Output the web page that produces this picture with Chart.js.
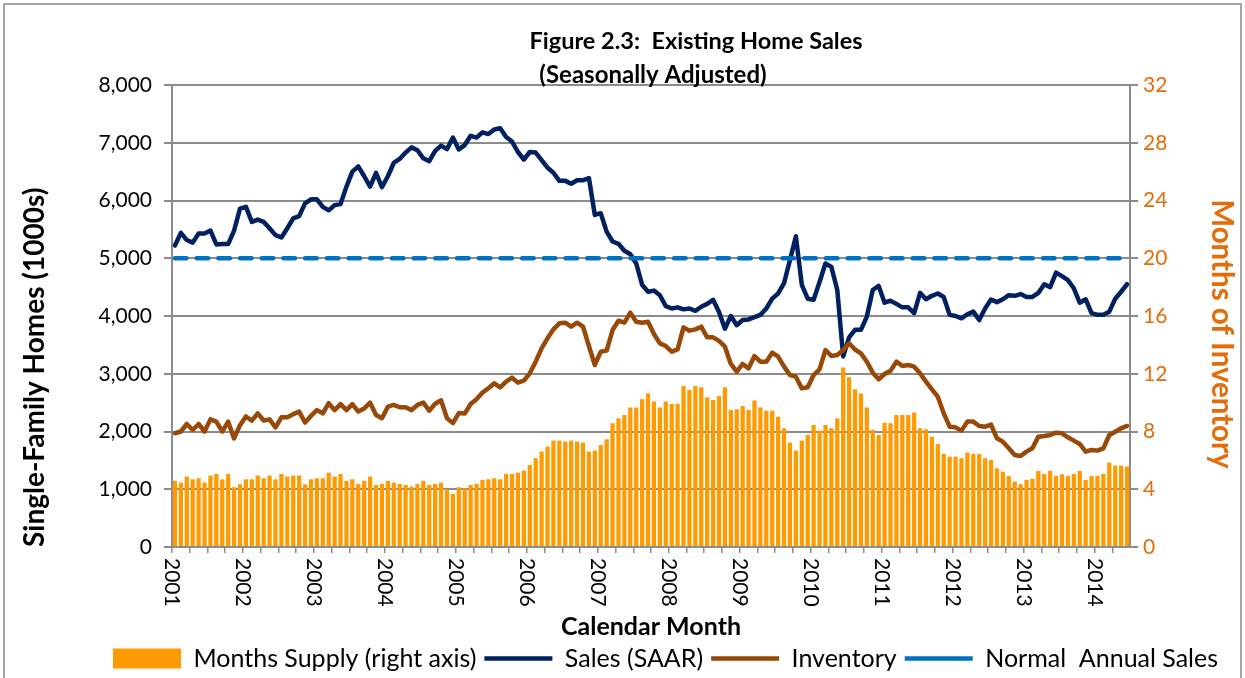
<!DOCTYPE html>
<html>
<head>
<meta charset="utf-8">
<script src="https://cdn.jsdelivr.net/npm/chart.js@4.4.1/dist/chart.umd.min.js"></script>
<style>
  html, body { margin: 0; padding: 0; background: #ffffff; }
  #wrap { position: relative; width: 1245px; height: 678px; overflow: hidden; }
</style>
</head>
<body>
<div id="wrap"><canvas id="c" width="1245" height="678"></canvas></div>
<script>
// ---------------- DATA ----------------
const years = [2001, 2002, 2003, 2004, 2005, 2006, 2007, 2008, 2009, 2010, 2011, 2012, 2013, 2014];
const monthNames = ['Jan','Feb','Mar','Apr','May','Jun','Jul','Aug','Sep','Oct','Nov','Dec'];

// Sales (SAAR), thousands — Jan 2001 .. Jun 2014
const salesSAAR = [
  5220, 5440, 5315, 5270, 5430, 5430, 5480, 5240, 5245, 5245, 5480, 5860,
  5890, 5630, 5670, 5630, 5520, 5400, 5360, 5520, 5690, 5730, 5950, 6020,
  6020, 5890, 5830, 5920, 5940, 6240, 6500, 6590, 6420, 6240, 6480, 6230,
  6420, 6650, 6720, 6830, 6920, 6870, 6730, 6680, 6860, 6950, 6890, 7090,
  6885, 6960, 7120, 7090, 7180, 7150, 7230, 7250, 7100, 7020, 6840, 6710,
  6840, 6830, 6700, 6570, 6480, 6340, 6340, 6290, 6350, 6350, 6390, 5750,
  5780, 5460, 5290, 5250, 5130, 5070, 4910, 4540, 4420, 4440, 4360, 4170,
  4130, 4150, 4115, 4130, 4090, 4160, 4210, 4280, 4070, 3780, 4000, 3840,
  3930, 3940, 3980, 4020, 4130, 4300, 4390, 4570, 4970, 5380, 4540, 4300,
  4280, 4590, 4910, 4850, 4450, 3300, 3630, 3760, 3760, 3990, 4450, 4520,
  4230, 4265, 4210, 4150, 4150, 4050, 4400, 4290, 4350, 4390, 4330, 4020,
  4000, 3960, 4030, 4075, 3930, 4130, 4285, 4240, 4290, 4360, 4350, 4380,
  4330, 4330, 4400, 4550, 4500, 4750, 4690, 4620, 4480, 4230, 4290, 4050,
  4020, 4020, 4075, 4300, 4420, 4550
];

// Inventory, thousands
const inventory = [
  1970, 2000, 2130, 2030, 2130, 2000, 2210, 2170, 2000, 2170, 1880, 2110,
  2260, 2190, 2315, 2190, 2210, 2070, 2245, 2245, 2300, 2345, 2155, 2270,
  2370, 2315, 2490, 2370, 2475, 2370, 2475, 2345, 2400, 2500, 2285, 2230,
  2430, 2460, 2420, 2420, 2370, 2460, 2500, 2360, 2480, 2540, 2230, 2145,
  2320, 2310, 2476, 2560, 2673, 2748, 2834, 2765, 2863, 2932, 2846, 2880,
  3007, 3209, 3440, 3613, 3769, 3873, 3884, 3815, 3884, 3815, 3480, 3151,
  3382, 3400, 3757, 3919, 3884, 4057, 3902, 3884, 3902, 3688, 3526, 3480,
  3382, 3423, 3803, 3746, 3769, 3815, 3630, 3630, 3570, 3469, 3169, 3036,
  3169, 3094, 3307, 3209, 3209, 3365, 3296, 3123, 2978, 2949, 2747, 2765,
  2978, 3076, 3411, 3307, 3325, 3411, 3527, 3420, 3353, 3209, 3019, 2903,
  2996, 3053, 3209, 3134, 3151, 3123, 3007, 2863, 2730, 2603, 2315, 2084,
  2072, 2015, 2171, 2171, 2096, 2084, 2120, 1882, 1824, 1709, 1594, 1576,
  1651, 1709, 1911, 1922, 1940, 1980, 1969, 1899, 1842, 1784, 1651, 1680,
  1669, 1709, 1940, 1997, 2055, 2096
];

// Months supply (right axis)
const monthsSupply = [
  4.58, 4.46, 4.88, 4.69, 4.76, 4.46, 4.95, 5.06, 4.69, 5.06, 4.14, 4.35,
  4.69, 4.69, 4.95, 4.76, 4.95, 4.69, 5.06, 4.88, 4.95, 4.95, 4.35, 4.69,
  4.76, 4.76, 5.15, 4.88, 5.06, 4.58, 4.69, 4.37, 4.58, 4.88, 4.30, 4.37,
  4.58, 4.46, 4.37, 4.30, 4.18, 4.37, 4.58, 4.30, 4.37, 4.46, 4.00, 3.68,
  4.14, 4.07, 4.30, 4.37, 4.65, 4.69, 4.76, 4.69, 5.06, 5.06, 5.15, 5.29,
  5.68, 6.15, 6.61, 6.95, 7.37, 7.37, 7.30, 7.37, 7.30, 7.23, 6.61, 6.68,
  7.07, 7.46, 8.57, 8.91, 9.14, 9.67, 9.67, 10.23, 10.64, 10.07, 9.67, 10.07,
  9.91, 9.91, 11.15, 10.87, 11.15, 11.06, 10.37, 10.18, 10.46, 11.06, 9.49, 9.54,
  9.77, 9.49, 10.14, 9.67, 9.44, 9.44, 9.03, 8.22, 7.23, 6.68, 7.37, 7.76,
  8.45, 8.06, 8.45, 8.22, 8.91, 12.44, 11.75, 10.92, 10.64, 9.67, 8.11, 7.76,
  8.61, 8.57, 9.14, 9.14, 9.14, 9.31, 8.22, 8.15, 7.64, 7.14, 6.45, 6.26,
  6.26, 6.15, 6.54, 6.45, 6.45, 6.15, 6.03, 5.45, 5.22, 4.92, 4.53, 4.35,
  4.65, 4.72, 5.27, 5.06, 5.27, 4.92, 5.04, 4.92, 5.06, 5.27, 4.65, 4.92,
  4.92, 5.06, 5.85, 5.64, 5.64, 5.57
];

// Normal annual sales reference level, thousands
const normalAnnualSales = 5000;

const leftTicks = [0, 1000, 2000, 3000, 4000, 5000, 6000, 7000, 8000];
const rightTicks = [0, 4, 8, 12, 16, 20, 24, 28, 32];

// ---------------- SETUP ----------------
const monthLabels = years.flatMap(y => monthNames.map(m => m + ' ' + y)).slice(0, salesSAAR.length);
const normalSeries = monthLabels.map(() => normalAnnualSales);

const FONT = "Lato, 'Liberation Sans', sans-serif";
const GRID = '#8C8C8C';
const ORANGE_TXT = '#E46C0A';

const decor = {
  id: 'decor',
  beforeDraw(chart) {
    const ctx = chart.ctx;
    ctx.save();
    ctx.fillStyle = '#ffffff';
    ctx.fillRect(0, 0, chart.width, chart.height);
    ctx.strokeStyle = '#A6A6A6';
    ctx.lineWidth = 2;
    ctx.strokeRect(4, 4, chart.width - 8, chart.height + 20);
    ctx.restore();
  },
  afterDraw(chart) {
    const ctx = chart.ctx;
    const xs = chart.scales.x;
    const area = chart.chartArea;
    ctx.save();
    ctx.fillStyle = '#000000';
    ctx.textAlign = 'center';
    ctx.textBaseline = 'middle';
    ctx.font = 'bold 23.5px ' + FONT;
    ctx.fillText('Figure 2.3:  Existing Home Sales', 696, 41);
    ctx.font = 'bold 24px ' + FONT;
    ctx.fillText('(Seasonally Adjusted)', 653, 75);

    // rotated year labels at the January tick marks
    const step = xs.getPixelForValue(1) - xs.getPixelForValue(0);
    ctx.font = '21px ' + FONT;
    ctx.textAlign = 'left';
    monthLabels.forEach((lab, i) => {
      if (i % 12 === 0) {
        const px = xs.getPixelForValue(i) - step / 2;
        ctx.save();
        ctx.translate(px, area.bottom + 11);
        ctx.rotate(Math.PI / 2);
        ctx.fillText(lab.split(' ')[1], 0, 0);
        ctx.restore();
      }
    });
    ctx.restore();
  }
};

new Chart(document.getElementById('c'), {
  type: 'bar',
  data: {
    labels: monthLabels,
    datasets: [
      {
        type: 'bar',
        label: 'Months Supply (right axis)',
        data: monthsSupply,
        yAxisID: 'y1',
        backgroundColor: '#FF9A00',
        borderWidth: 0,
        barPercentage: 0.72,
        categoryPercentage: 1.0,
        pointStyle: 'rect',
        order: 4
      },
      {
        type: 'line',
        label: 'Sales (SAAR)',
        data: salesSAAR,
        yAxisID: 'y',
        borderColor: '#002060',
        backgroundColor: '#002060',
        borderWidth: 4.5,
        pointRadius: 0,
        tension: 0,
        borderJoinStyle: 'round',
        borderCapStyle: 'round',
        pointStyle: 'line',
        fill: false,
        order: 3
      },
      {
        type: 'line',
        label: 'Inventory',
        data: inventory,
        yAxisID: 'y',
        borderColor: '#984807',
        backgroundColor: '#984807',
        borderWidth: 4.5,
        pointRadius: 0,
        tension: 0,
        borderJoinStyle: 'round',
        borderCapStyle: 'round',
        pointStyle: 'line',
        fill: false,
        order: 2
      },
      {
        type: 'line',
        label: 'Normal  Annual Sales',
        data: normalSeries,
        yAxisID: 'y',
        borderColor: '#0070C0',
        backgroundColor: '#0070C0',
        borderWidth: 4.5,
        borderDash: [11.5, 10.2],
        borderCapStyle: 'round',
        pointRadius: 0,
        pointStyle: 'line',
        fill: false,
        order: 1
      }
    ]
  },
  options: {
    responsive: false,
    animation: false,
    events: [],
    layout: { padding: { top: 85, left: 86, right: 0, bottom: -3 } },
    plugins: {
      title: { display: false },
      tooltip: { enabled: false },
      legend: {
        display: true,
        position: 'bottom',
        align: 'center',
        labels: {
          usePointStyle: true,
          pointStyleWidth: 68,
          boxHeight: 20,
          padding: 8,
          color: '#000000',
          font: { family: FONT, size: 25 },
          sort: (a, b) => a.datasetIndex - b.datasetIndex
        }
      }
    },
    scales: {
      x: {
        type: 'category',
        offset: true,
        grid: {
          offset: true,
          drawOnChartArea: false,
          drawTicks: true,
          tickLength: 6,
          lineWidth: 1.5,
          color: (c) => (c.index !== undefined && c.index % 3 === 0 ? GRID : 'rgba(0,0,0,0)')
        },
        border: { display: true, color: GRID, width: 2 },
        ticks: { display: false, autoSkip: false },
        title: {
          display: true,
          text: 'Calendar Month',
          color: '#000000',
          font: { family: FONT, size: 25, weight: 'bold' },
          padding: { top: 0, bottom: -4 }
        },
        afterFit: (s) => { s.height = 91; }
      },
      y: {
        position: 'left',
        min: leftTicks[0],
        max: leftTicks[leftTicks.length - 1],
        afterBuildTicks: (s) => { s.ticks = leftTicks.map(v => ({ value: v })); },
        ticks: {
          color: '#000000',
          font: { family: FONT, size: 21 },
          padding: 12,
          callback: (v) => Number(v).toLocaleString('en-US')
        },
        grid: { color: GRID, lineWidth: 2, tickLength: 8 },
        border: { display: true, color: GRID, width: 2 },
        title: {
          display: true,
          text: 'Single-Family Homes (1000s)',
          align: 'start',
          color: '#000000',
          font: { family: FONT, size: 28, weight: 'bold' },
          padding: { top: -68, bottom: 0 }
        },
        afterFit: (s) => { s.width = 86; }
      },
      y1: {
        position: 'right',
        min: rightTicks[0],
        max: rightTicks[rightTicks.length - 1],
        afterBuildTicks: (s) => { s.ticks = rightTicks.map(v => ({ value: v })); },
        ticks: {
          color: ORANGE_TXT,
          font: { family: FONT, size: 21 },
          padding: 5
        },
        grid: { drawOnChartArea: false, color: GRID, lineWidth: 2, tickLength: 8 },
        border: { display: true, color: GRID, width: 2 },
        title: {
          display: true,
          text: '     Months of Inventory',
          color: ORANGE_TXT,
          font: { family: FONT, size: 29.5, weight: 'bold' },
          padding: { top: 6, bottom: 0 }
        },
        afterFit: (s) => { s.width = 115; }
      }
    }
  },
  plugins: [decor]
});
</script>
</body>
</html>
